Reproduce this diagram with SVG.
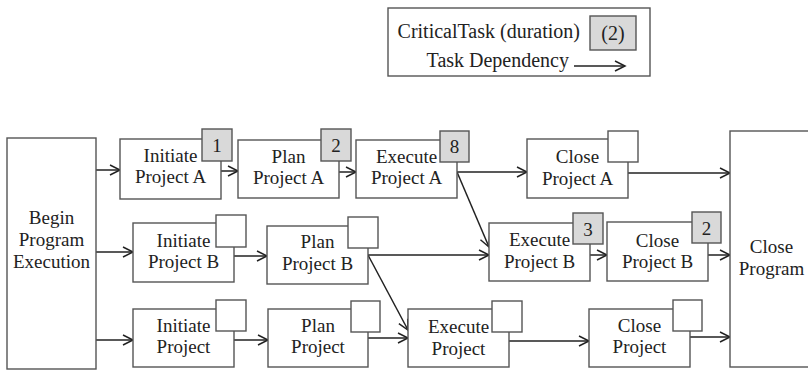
<svg xmlns="http://www.w3.org/2000/svg" width="808" height="370" viewBox="0 0 808 370">
  <defs>
    <marker id="arrow" markerUnits="userSpaceOnUse" markerWidth="14" markerHeight="14" refX="11" refY="6" orient="auto">
      <path d="M1,1 L11,6 L1,11" fill="none" stroke="#222" stroke-width="1.5"/>
    </marker>
  </defs>
  <style>
    .box { fill: #fff; stroke: #555; stroke-width: 1.4; }
    .crit { fill: #d9d9d9; stroke: #555; stroke-width: 1.4; }
    .badge { fill: #fff; stroke: #555; stroke-width: 1.4; }
    text { font-family: "Liberation Serif", "Times New Roman", serif; font-size: 19px; fill: #222; text-anchor: middle; }
    .legend-text { font-size: 20px; text-anchor: end; }
    .edge { fill: none; stroke: #222; stroke-width: 1.5; marker-end: url(#arrow); }
  </style>
  <rect width="808" height="370" fill="#fff"/>

  <!-- legend -->
  <g id="legend">
    <rect class="box" x="388" y="8" width="262" height="68"/>
    <text class="legend-text" x="580" y="38">CriticalTask (duration)</text>
    <rect class="crit" x="590" y="16" width="46" height="34"/>
    <text x="613" y="40" style="font-size:20px">(2)</text>
    <text class="legend-text" x="569" y="67">Task Dependency</text>
    <line class="edge" x1="574" y1="66" x2="625" y2="66"/>
  </g>

  <!-- connectors -->
  <g id="connectors">
    <line class="edge" x1="96" y1="170" x2="120" y2="170"/>
    <line class="edge" x1="221" y1="171" x2="238" y2="171"/>
    <line class="edge" x1="339" y1="172" x2="356" y2="172"/>
    <line class="edge" x1="457" y1="172" x2="527" y2="172"/>
    <line class="edge" x1="628" y1="173" x2="730" y2="173"/>
    <line class="edge" x1="457" y1="172" x2="489" y2="247"/>
    <line class="edge" x1="96" y1="252" x2="133" y2="252"/>
    <line class="edge" x1="234" y1="256" x2="267" y2="256"/>
    <line class="edge" x1="368" y1="255" x2="489" y2="255"/>
    <line class="edge" x1="368" y1="255" x2="408" y2="330"/>
    <line class="edge" x1="590" y1="255" x2="607" y2="255"/>
    <line class="edge" x1="708" y1="255" x2="730" y2="255"/>
    <line class="edge" x1="96" y1="340" x2="133" y2="340"/>
    <line class="edge" x1="234" y1="340" x2="268" y2="340"/>
    <line class="edge" x1="368" y1="338" x2="408" y2="338"/>
    <line class="edge" x1="509" y1="341" x2="589" y2="341"/>
    <line class="edge" x1="690" y1="337" x2="730" y2="337"/>
  </g>

  <g id="begin-program">
    <rect class="box" x="7" y="138" width="89" height="231"/>
    <text x="51.5" y="224">Begin</text>
    <text x="51.5" y="246">Program</text>
    <text x="51.5" y="268">Execution</text>
  </g>

  <g id="close-program">
    <rect class="box" x="730" y="131" width="84" height="236"/>
    <text x="771.5" y="253">Close</text>
    <text x="771.5" y="275">Program</text>
  </g>

  <g id="initiate-a">
    <rect class="box" x="120" y="139" width="101" height="60"/>
    <text x="170.5" y="162">Initiate</text>
    <text x="170.5" y="183">Project A</text>
    <rect class="crit" x="202" y="129" width="30" height="32"/>
    <text x="217" y="152">1</text>
  </g>

  <g id="plan-a">
    <rect class="box" x="238" y="140" width="101" height="58"/>
    <text x="288.5" y="163">Plan</text>
    <text x="288.5" y="184">Project A</text>
    <rect class="crit" x="321" y="129" width="30" height="32"/>
    <text x="336" y="152">2</text>
  </g>

  <g id="execute-a">
    <rect class="box" x="356" y="140" width="101" height="58"/>
    <text x="406.5" y="163">Execute</text>
    <text x="406.5" y="184">Project A</text>
    <rect class="crit" x="440" y="131" width="29" height="31"/>
    <text x="454.5" y="153">8</text>
  </g>

  <g id="close-a">
    <rect class="box" x="527" y="139" width="101" height="59"/>
    <text x="577.5" y="163">Close</text>
    <text x="577.5" y="185">Project A</text>
    <rect class="badge" x="608" y="131" width="30" height="31"/>
  </g>

  <g id="initiate-b">
    <rect class="box" x="133" y="223" width="101" height="59"/>
    <text x="183.5" y="247">Initiate</text>
    <text x="183.5" y="268">Project B</text>
    <rect class="badge" x="216" y="215" width="30" height="32"/>
  </g>

  <g id="plan-b">
    <rect class="box" x="267" y="226" width="101" height="58"/>
    <text x="317.5" y="248">Plan</text>
    <text x="317.5" y="270">Project B</text>
    <rect class="badge" x="348" y="217" width="30" height="31"/>
  </g>

  <g id="execute-b">
    <rect class="box" x="489" y="223" width="101" height="58"/>
    <text x="539.5" y="246">Execute</text>
    <text x="539.5" y="268">Project B</text>
    <rect class="crit" x="573" y="213" width="30" height="31"/>
    <text x="588" y="236">3</text>
  </g>

  <g id="close-b">
    <rect class="box" x="607" y="222" width="101" height="59"/>
    <text x="657.5" y="247">Close</text>
    <text x="657.5" y="268">Project B</text>
    <rect class="crit" x="692" y="212" width="29" height="31"/>
    <text x="706.5" y="235">2</text>
  </g>

  <g id="initiate-c">
    <rect class="box" x="133" y="309" width="101" height="58"/>
    <text x="183.5" y="332">Initiate</text>
    <text x="183.5" y="353">Project</text>
    <rect class="badge" x="216" y="300" width="30" height="31"/>
  </g>

  <g id="plan-c">
    <rect class="box" x="268" y="309" width="100" height="58"/>
    <text x="318" y="332">Plan</text>
    <text x="318" y="353">Project</text>
    <rect class="badge" x="351" y="301" width="29" height="31"/>
  </g>

  <g id="execute-c">
    <rect class="box" x="408" y="309" width="101" height="58"/>
    <text x="458.5" y="333">Execute</text>
    <text x="458.5" y="355">Project</text>
    <rect class="badge" x="492" y="301" width="30" height="31"/>
  </g>

  <g id="close-c">
    <rect class="box" x="589" y="309" width="101" height="58"/>
    <text x="639.5" y="332">Close</text>
    <text x="639.5" y="353">Project</text>
    <rect class="badge" x="673" y="300" width="29" height="31"/>
  </g>
</svg>
